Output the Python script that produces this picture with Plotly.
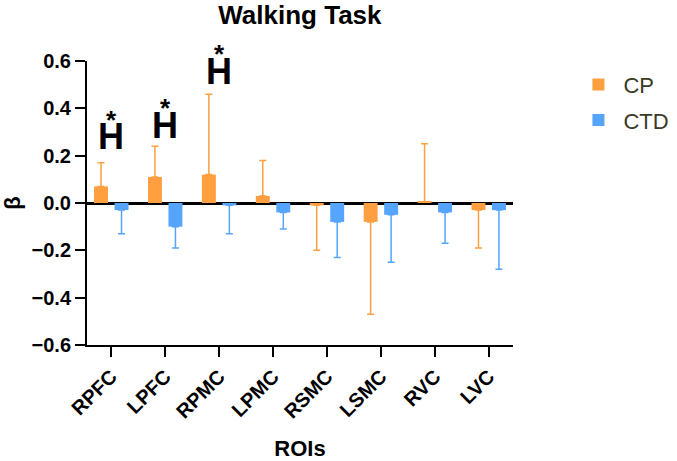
import plotly.graph_objects as go

rois = ["RPFC", "LPFC", "RPMC", "LPMC", "RSMC", "LSMC", "RVC", "LVC"]
cp_vals = [0.07, 0.11, 0.12, 0.03, -0.01, -0.08, 0.005, -0.03]
cp_err_ends = [0.17, 0.24, 0.46, 0.18, -0.20, -0.47, 0.25, -0.19]
ctd_vals = [-0.03, -0.10, -0.01, -0.04, -0.08, -0.05, -0.04, -0.03]
ctd_err_ends = [-0.13, -0.19, -0.13, -0.11, -0.23, -0.25, -0.17, -0.28]

sig_rois = ["RPFC", "LPFC", "RPMC"]
sig_h_y = [0.279, 0.3295, 0.556]

CP_COLOR = "#FF9F40"
CTD_COLOR = "#55A5FF"
FONT = "Arial, Liberation Sans, sans-serif"


def split_err(vals, ends):
    up, down = [], []
    for v, e in zip(vals, ends):
        if e >= v:
            up.append(e - v)
            down.append(0)
        else:
            up.append(0)
            down.append(v - e)
    return up, down


cp_up, cp_down = split_err(cp_vals, cp_err_ends)
ctd_up, ctd_down = split_err(ctd_vals, ctd_err_ends)

fig = go.Figure()
fig.add_trace(go.Bar(
    x=rois, y=cp_vals, name="CP", marker_color=CP_COLOR, marker_line_width=0,
    legendgroup="a",
    error_y=dict(type="data", symmetric=False, array=cp_up, arrayminus=cp_down,
                 color=CP_COLOR, thickness=1.5, width=3.5),
))
fig.add_trace(go.Bar(
    x=rois, y=ctd_vals, name="CTD", marker_color=CTD_COLOR, marker_line_width=0,
    legendgroup="b",
    error_y=dict(type="data", symmetric=False, array=ctd_up, arrayminus=ctd_down,
                 color=CTD_COLOR, thickness=1.5, width=3.5),
))

for r, hy in zip(sig_rois, sig_h_y):
    fig.add_annotation(x=r, y=hy, xref="x", yref="y", text="H", showarrow=False,
                       font=dict(family=FONT, size=36, color="black", weight="bold"),
                       yanchor="middle", xanchor="center")
    fig.add_annotation(x=r, y=hy, xref="x", yref="y", text="*", showarrow=False,
                       font=dict(family=FONT, size=26, color="black", weight="bold"),
                       yanchor="middle", xanchor="center", yshift=17)

fig.update_layout(
    width=677, height=461,
    margin=dict(l=87, r=164, t=61, b=116),
    plot_bgcolor="white", paper_bgcolor="white",
    barmode="group", bargap=0.24, bargroupgap=0.32,
    font=dict(family=FONT, color="black"),
    title=dict(text="Walking Task", x=0.443, xanchor="center", y=0.968, yanchor="middle",
               font=dict(size=26, weight="bold", color="black")),
    legend=dict(xref="container", yref="container", x=0.847, y=0.862,
                xanchor="left", yanchor="top", itemwidth=40,
                font=dict(size=22, color="#3a3a25"), tracegroupgap=4,
                bgcolor="rgba(0,0,0,0)"),
    showlegend=True,
)
fig.update_xaxes(
    range=[-0.45, 7.45], showline=True, linecolor="black", linewidth=2,
    ticks="outside", ticklen=10, tickwidth=2, tickcolor="black",
    tickangle=-45, tickfont=dict(size=20, weight="bold"),
    title=dict(text="ROIs", font=dict(size=22, weight="bold"), standoff=25),
    showgrid=False, automargin=False,
)
fig.update_yaxes(
    range=[-0.6, 0.6], tickvals=[-0.6, -0.4, -0.2, 0.0, 0.2, 0.4, 0.6], tickformat=".1f",
    showline=True, linecolor="black", linewidth=2,
    ticks="outside", ticklen=10, tickwidth=2, tickcolor="black",
    tickfont=dict(size=20, weight="bold"),
    title=dict(text="β", font=dict(size=22, weight="bold"), standoff=14),
    showgrid=False, zeroline=True, zerolinecolor="black", zerolinewidth=3,
    automargin=False,
)

fig.write_html("out.html")
